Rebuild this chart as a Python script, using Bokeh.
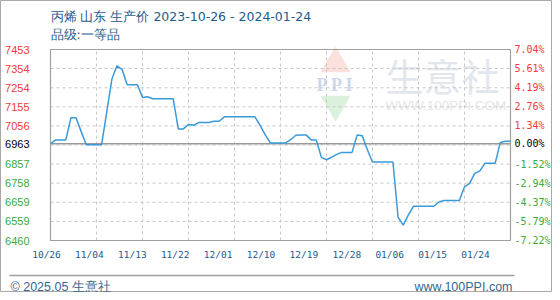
import pandas as pd
from bokeh.plotting import figure
from bokeh.models import Range1d
from bokeh.core.properties import value
from bokeh.embed import file_html
from bokeh.resources import INLINE

# ---------------- data ----------------
dates = pd.date_range("2023-10-26", "2024-01-24", freq="D")
prices = [6963, 6983, 6983, 6983, 7098, 7098, 7026, 6958, 6958, 6958, 6958,
          7128, 7298, 7368, 7350, 7270, 7270, 7270, 7204, 7207, 7197,
          7197, 7197, 7197, 7197, 7040, 7040, 7063, 7059, 7073, 7073,
          7073, 7080, 7080, 7103, 7103, 7103, 7103, 7103, 7103, 7103,
          7059, 7010, 6967, 6967, 6967, 6967, 6984, 7007, 7009, 7009,
          6983, 6983, 6892, 6880, 6893, 6908, 6918, 6918, 6918, 7009,
          7005, 6932, 6868, 6868, 6868, 6868, 6868, 6582, 6540, 6592,
          6638, 6638, 6638, 6638, 6638, 6660, 6668, 6668, 6668, 6668,
          6739, 6757, 6809, 6822, 6861, 6861, 6861, 6970, 6976, 6976]
base_price = 6963
y_min, y_max = 6460, 7453
x_labels = ["10/26", "11/04", "11/13", "11/22", "12/01", "12/10",
            "12/19", "12/28", "01/06", "01/15", "01/24"]
y_tick_values = [7453, 7354, 7254, 7155, 7056, 6963, 6857, 6758, 6659, 6559, 6460]
y_tick_labels = ["7453", "7354", "7254", "7155", "7056", "6963",
                 "6857", "6758", "6659", "6559", "6460"]
pct_labels = ["7.04%", "5.61%", "4.19%", "2.76%", "1.34%", "0.00%",
              "-1.52%", "-2.94%", "-4.37%", "-5.79%", "-7.22%"]
y_grid_values = [7453, 7354, 7254, 7155, 7056, 6956.5, 6857, 6758, 6659, 6559, 6460]
title_text = "丙烯 山东 生产价 2023-10-26 - 2024-01-24"
subtitle_text = "品级:一等品"
footer_left = "© 2025.05 生意社"
footer_right = "www.100PPI.com"

days = [(d - dates[0]).days for d in dates]
x_grid_days = [days[i] for i in range(0, len(days), 9)]

RED, BLACK, GREEN = "#f23a3a", "#000000", "#3aaa3a"
label_colors = [RED] * 5 + [BLACK] + [GREEN] * 5
BLUE_TXT = "#1e5a8c"
GRID = "#c8c8c8"

# ---------------- layout constants (pixels) ----------------
W, H = 552, 292
FL, FR, FT, FB = 50, 510, 49, 240          # plot area in canvas pixels
ppx = (days[-1] - days[0]) / (FR - FL)     # days per pixel
ppy = (y_max - y_min) / (FB - FT)          # price per pixel
x_start = days[0] - FL * ppx
x_end = days[-1] + (W - FR) * ppx
y_end = y_max + FT * ppy
y_start = y_min - (H - FB) * ppy

p = figure(width=W, height=H, output_backend="svg", toolbar_location=None,
           x_range=Range1d(x_start, x_end), y_range=Range1d(y_start, y_end),
           x_axis_location=None, y_axis_location=None, min_border=0)
p.grid.visible = False
p.background_fill_color = "white"
p.border_fill_color = "white"
p.outline_line_color = "#a8a8a8"
p.outline_line_width = 1

# page coordinate ranges (pixels, y downward) for decoration / titles
p.extra_x_ranges = {"page": Range1d(0, W),
                    # label row: label i centred at 46 + 42.9*i px
                    "lbl": Range1d(-46 / 42.9, (W - 46) / 42.9)}
p.extra_y_ranges = {"page": Range1d(H, 0)}

# watermark
p.scatter(x=[335], y=[63], marker="triangle", size=30, fill_color="#fbe0dc",
          line_color=None, x_range_name="page", y_range_name="page")
p.scatter(x=[335], y=[104], marker="inverted_triangle", size=30, fill_color="#dcf1dc",
          line_color=None, x_range_name="page", y_range_name="page")
p.text(x=[335], y=[84], text=["P P I"], text_font=value("Liberation Serif"),
       text_font_size=value("18px"), text_font_style="bold", text_color="#cbd8ec",
       text_align="center", text_baseline="middle",
       x_range_name="page", y_range_name="page")
p.text(x=[385], y=[74], text=["生意社"], text_font=value("Noto Sans CJK SC"),
       text_font_size=value("38px"), text_color="#e2e7ef",
       text_align="left", text_baseline="middle",
       x_range_name="page", y_range_name="page")
p.text(x=[385], y=[105], text=["WWW.100PPI.COM"], text_font=value("Liberation Sans"),
       text_font_size=value("13.5px"), text_color="#e6e6e6",
       text_align="left", text_baseline="middle",
       x_range_name="page", y_range_name="page")

# grid (dashed)
p.segment(x0=x_grid_days, x1=x_grid_days, y0=[y_min] * len(x_grid_days),
          y1=[y_max] * len(x_grid_days), line_color=GRID, line_dash="3 3", line_width=1)
p.segment(x0=[days[0]] * len(y_grid_values), x1=[days[-1]] * len(y_grid_values),
          y0=y_grid_values, y1=y_grid_values, line_color=GRID, line_dash="3 3",
          line_width=1)

# plot border
p.quad(left=[days[0]], right=[days[-1]], bottom=[y_min], top=[y_max],
       fill_color=None, line_color="#a0a0a0", line_width=1.2)

# base line
p.segment(x0=[days[0]], x1=[days[-1]], y0=[base_price], y1=[base_price],
          line_color="#999999", line_width=1.5)

# price line
p.line(days, prices, line_color="#3a9ad9", line_width=1.5)

# y tick labels
p.text(x=[days[0]] * len(y_tick_values), y=y_tick_values, text=y_tick_labels,
       x_offset=-21, text_align="right", text_baseline="middle",
       text_color=label_colors, text_font=value("Liberation Sans"),
       text_font_size=value("11px"))
p.text(x=[days[-1]] * len(y_tick_values), y=y_tick_values, text=pct_labels,
       x_offset=4, text_align="left", text_baseline="middle",
       text_color=label_colors, text_font=value("DejaVu Sans Mono"),
       text_font_size=value("10px"))

# x tick labels
p.text(x=list(range(len(x_labels))), y=[y_min] * len(x_labels), text=x_labels,
       y_offset=14, text_align="center", text_baseline="middle",
       text_color=BLUE_TXT, text_font=value("DejaVu Sans Mono"),
       text_font_size=value("9.5px"), x_range_name="lbl")

# titles
p.text(x=[50, 50], y=[15.5, 33.5], text=[title_text, subtitle_text],
       text_align="left", text_baseline="middle", text_color=BLUE_TXT,
       text_font=value("DejaVu Sans"), text_font_size=value("12.5px"),
       x_range_name="page", y_range_name="page")

# footer
p.segment(x0=[9], x1=[514], y0=[275], y1=[275], line_color="#a0a0a0",
          line_width=1.5, x_range_name="page", y_range_name="page")
p.text(x=[10], y=[286], text=[footer_left], text_align="left",
       text_baseline="middle", text_font=value("Liberation Sans"),
       text_font_size=value("12.5px"), text_color="#36688f",
       x_range_name="page", y_range_name="page")
p.text(x=[512], y=[286], text=[footer_right], text_align="right",
       text_baseline="middle", text_font=value("Liberation Sans"),
       text_font_size=value("12.5px"), text_color="#36688f",
       x_range_name="page", y_range_name="page")

open("out.html", "w").write(file_html(p, INLINE))
